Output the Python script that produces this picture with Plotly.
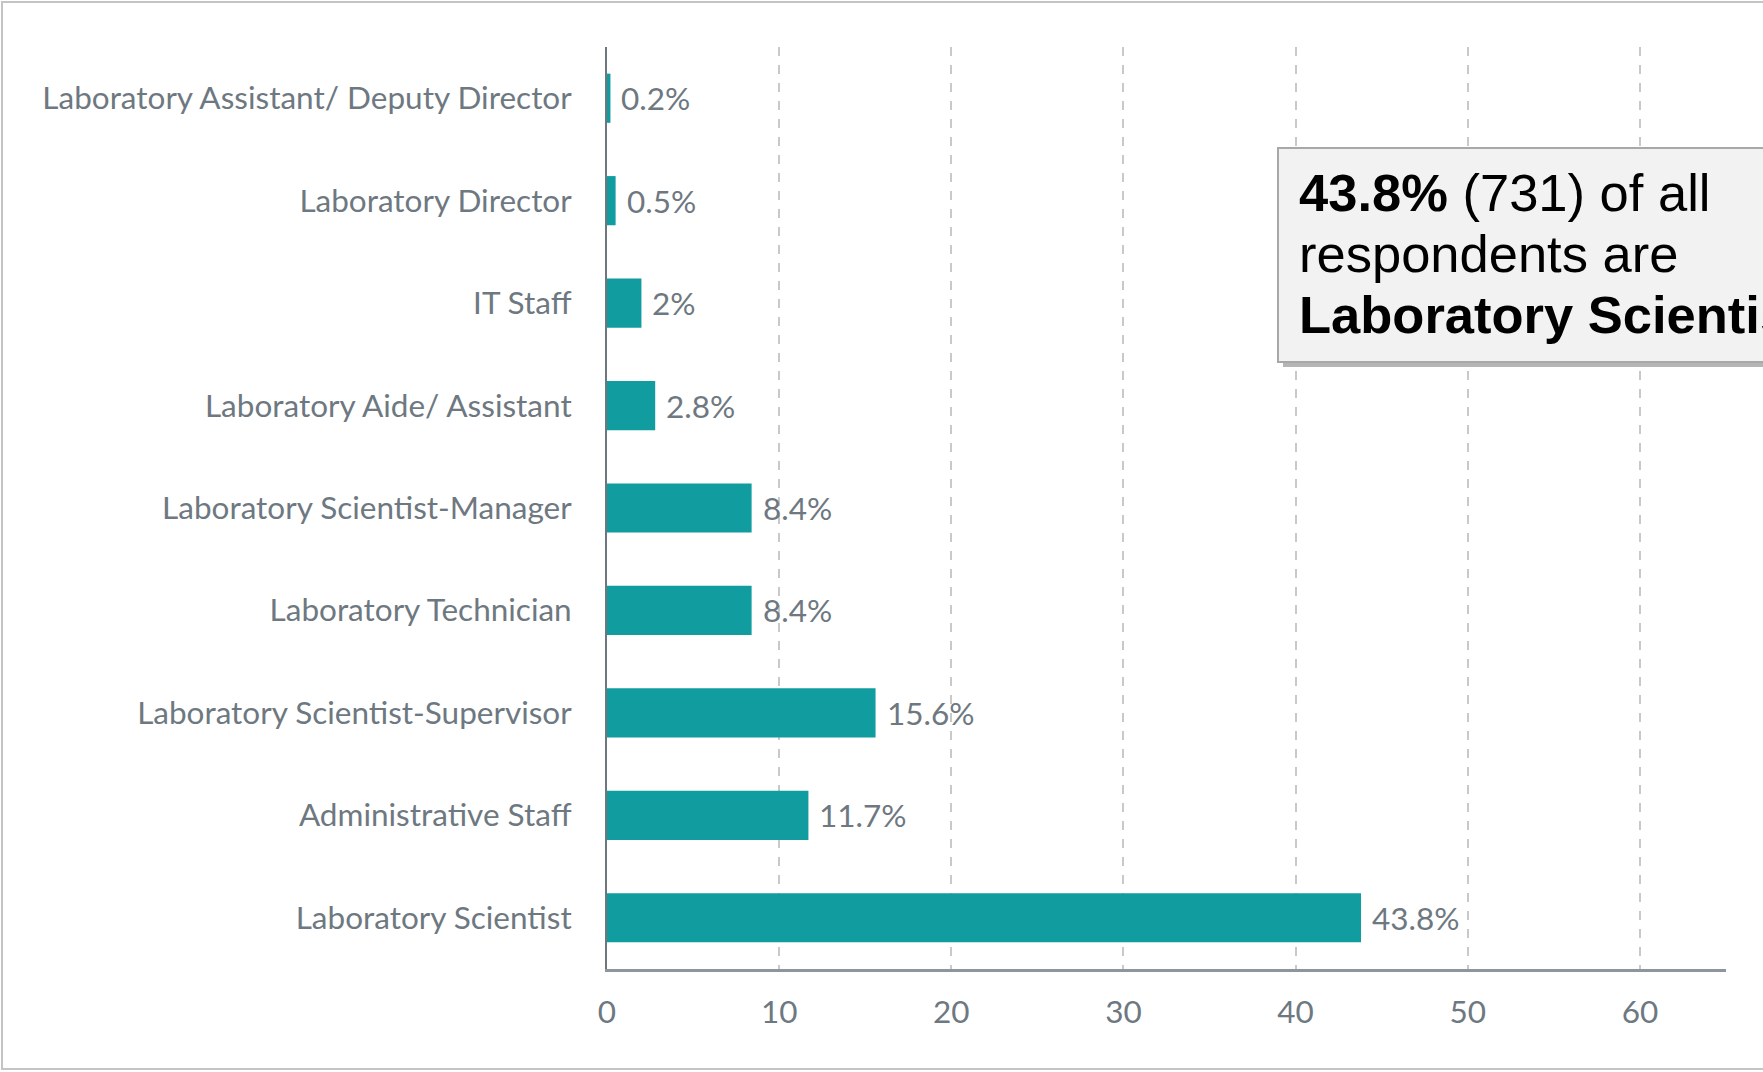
import plotly.graph_objects as go

categories = [
    "Laboratory Scientist",
    "Administrative Staff",
    "Laboratory Scientist-Supervisor",
    "Laboratory Technician",
    "Laboratory Scientist-Manager",
    "Laboratory Aide/ Assistant",
    "IT Staff",
    "Laboratory Director",
    "Laboratory Assistant/ Deputy Director",
]
values = [43.8, 11.7, 15.6, 8.4, 8.4, 2.8, 2.0, 0.5, 0.2]
value_labels = ["43.8%", "11.7%", "15.6%", "8.4%", "8.4%", "2.8%", "2%", "0.5%", "0.2%"]
x_ticks = [0, 10, 20, 30, 40, 50, 60]

W, H = 1763, 1072
L, R, T, B = 607, 37, 47, 103
PW, PH = W - L - R, H - T - B


def px(x):
    return (x - L) / PW


def py(y):
    return (H - B - y) / PH


TEAL = "#119c9f"
GREY_TXT = "#6e7881"
FONT = "Lato, 'Open Sans', sans-serif"
FS = 31.5

fig = go.Figure()
fig.add_trace(go.Bar(
    x=values, y=categories, orientation="h",
    marker=dict(color=TEAL, line=dict(width=0)),
    hoverinfo="skip",
))

for v, c, t in zip(values, categories, value_labels):
    fig.add_annotation(x=v, y=c, text=t, showarrow=False, xanchor="left",
                       xshift=9, font=dict(family=FONT, size=FS, color=GREY_TXT))

shapes = []
# outer frame
shapes.append(dict(type="rect", xref="paper", yref="paper",
                   x0=px(2), x1=px(1800), y0=py(1069), y1=py(2),
                   line=dict(color="#c4c4c4", width=2), fillcolor="rgba(0,0,0,0)", layer="below"))
# callout shadow
shapes.append(dict(type="rect", xref="paper", yref="paper",
                   x0=px(1283), x1=px(1820), y0=py(367), y1=py(153),
                   line=dict(width=0), fillcolor="rgba(90,90,90,0.45)", layer="above"))
# callout box
shapes.append(dict(type="rect", xref="paper", yref="paper",
                   x0=px(1278), x1=px(1820), y0=py(362), y1=py(148),
                   line=dict(color="#a8a8a8", width=2), fillcolor="#f2f2f2", layer="above"))
fig.update_layout(shapes=shapes)

callout_lines = [
    "<b>43.8%</b> (731) of all",
    "respondents are",
    "<b>Laboratory Scientists</b>",
]
for i, line in enumerate(callout_lines):
    fig.add_annotation(xref="paper", yref="paper", x=px(1297), y=py(212 + 61 * i),
                       text=line, showarrow=False, xanchor="left", yanchor="bottom",
                       yshift=-12,
                       font=dict(family="Liberation Sans, Arial, sans-serif", size=52.5, color="#000000"))

fig.update_layout(
    width=W, height=H,
    margin=dict(l=L, r=R, t=T, b=B, pad=0),
    paper_bgcolor="white", plot_bgcolor="white",
    showlegend=False,
    bargap=0.52,
    xaxis=dict(
        range=[0, 65], tickvals=x_ticks, ticktext=[str(t) for t in x_ticks],
        showgrid=True, gridcolor="#c9c9c9", griddash="dash", gridwidth=1.5,
        zeroline=False, showline=True, linecolor="#8e959c", linewidth=3,
        ticks="", ticklabelstandoff=13,
        tickfont=dict(family=FONT, size=FS, color=GREY_TXT),
        fixedrange=True,
    ),
    yaxis=dict(
        categoryorder="array", categoryarray=categories,
        range=[-0.5, 8.5],
        showgrid=False, zeroline=False, showline=True, linecolor="#6e767e", linewidth=2,
        ticks="", ticklabelstandoff=27,
        tickfont=dict(family=FONT, size=FS, color=GREY_TXT),
        fixedrange=True,
    ),
)

fig.write_html("out.html", config={"displayModeBar": False},
               post_script="document.body.style.margin='0';document.body.style.overflow='hidden';")
